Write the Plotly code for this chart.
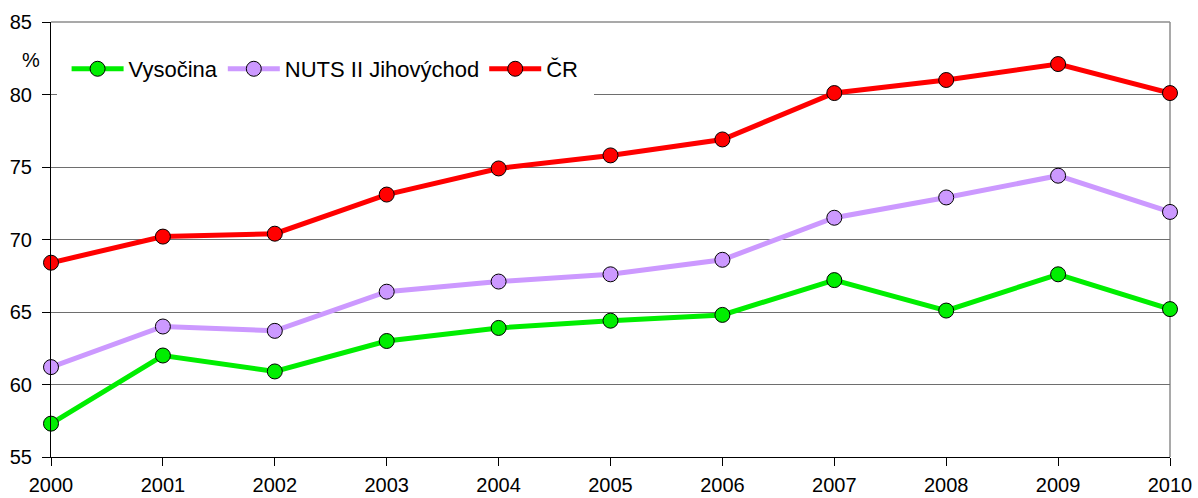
import plotly.graph_objects as go

years = [2000, 2001, 2002, 2003, 2004, 2005, 2006, 2007, 2008, 2009, 2010]
vysocina = [57.3, 62.0, 60.9, 63.0, 63.9, 64.4, 64.8, 67.2, 65.1, 67.6, 65.2]
jihovychod = [61.2, 64.0, 63.7, 66.4, 67.1, 67.6, 68.6, 71.5, 72.9, 74.4, 71.9]
cr = [68.4, 70.2, 70.4, 73.1, 74.9, 75.8, 76.9, 80.1, 81.0, 82.1, 80.1]

names = ["Vysočina", "NUTS II Jihovýchod", "ČR"]
colors = ["#00ee00", "#cc99ff", "#ff0000"]
series = [vysocina, jihovychod, cr]

FONT = "Liberation Sans, Arial, sans-serif"

fig = go.Figure()
for name, col, vals in zip(names, colors, series):
    fig.add_trace(go.Scatter(
        x=years, y=vals, name=name, mode="lines+markers",
        line=dict(color=col, width=5),
        marker=dict(size=15, color=col, line=dict(color="black", width=1)),
        cliponaxis=False,
    ))

fig.update_layout(
    width=1198, height=498,
    margin=dict(l=51, r=28, t=22, b=41, autoexpand=False),
    plot_bgcolor="white", paper_bgcolor="white",
    font=dict(family=FONT, size=20, color="black"),
    showlegend=True,
    legend=dict(
        orientation="h", x=0.005, xanchor="left", y=0.892, yanchor="middle",
        bgcolor="white", bordercolor="white", borderwidth=10,
        font=dict(family=FONT, size=22, color="black"),
        itemwidth=52,
    ),
    xaxis=dict(
        range=[2000, 2010], tickvals=years, ticktext=[str(y) for y in years],
        showgrid=False, showline=True, linecolor="black", linewidth=1,
        ticks="outside", ticklen=8, tickcolor="black", zeroline=False,
        tickfont=dict(size=20), automargin=False, ticklabelstandoff=2,
    ),
    yaxis=dict(
        range=[55, 85], tickvals=[55, 60, 65, 70, 75, 80, 85],
        showgrid=True, gridcolor="#6e6e6e", gridwidth=1,
        showline=True, linecolor="black", linewidth=1,
        ticks="outside", ticklen=8, tickcolor="black", zeroline=False,
        tickfont=dict(size=20), automargin=False, ticklabelstandoff=6,
    ),
    annotations=[dict(
        text="%", xref="paper", yref="paper", x=-0.018, y=0.913,
        xanchor="center", yanchor="middle", showarrow=False,
        font=dict(family=FONT, size=20, color="black"),
    )],
    shapes=[
        dict(type="line", xref="paper", yref="paper", x0=1, x1=1, y0=0, y1=1,
             line=dict(color="#8c8c8c", width=1.5), layer="below"),
        dict(type="line", xref="paper", yref="paper", x0=0, x1=1, y0=1, y1=1,
             line=dict(color="#8c8c8c", width=1.5), layer="below"),
    ],
)

fig.write_html(
    "out.html",
    config={"displayModeBar": False},
    post_script="document.body.style.margin='0px';document.body.style.overflow='hidden';",
)
